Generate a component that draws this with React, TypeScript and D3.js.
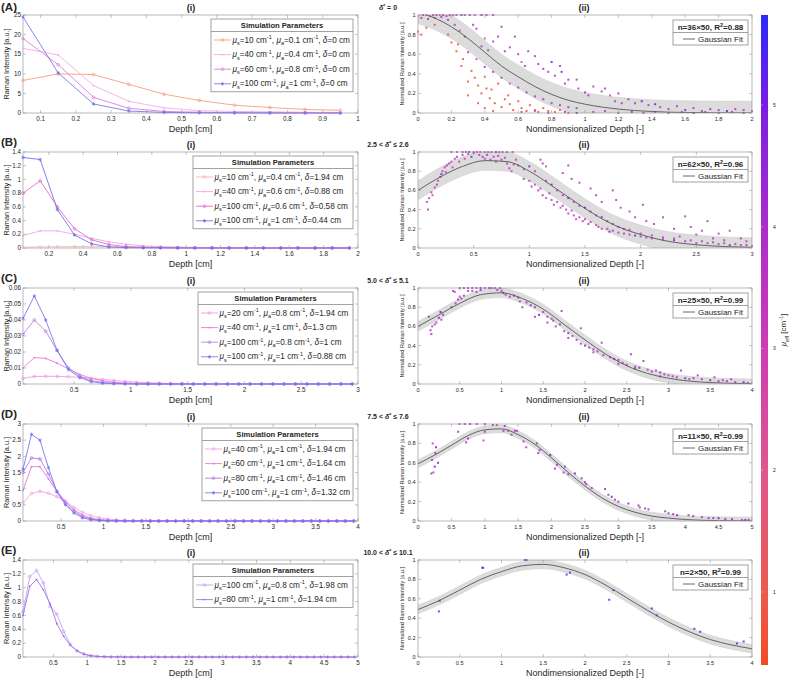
import React from "react";
import * as d3 from "d3";

const FONT = "'Liberation Sans', Arial, Helvetica, sans-serif";

// ---------------- Column (i): simulated Raman intensity vs depth ----------------
const depthA = [0.05, 0.15, 0.25, 0.35, 0.45, 0.55, 0.65, 0.75, 0.85, 0.95];
const intensityA = [
  [8.3, 10.0, 9.8, 7.3, 4.8, 3.2, 2.0, 1.4, 0.9, 0.7],
  [16.5, 14.8, 7.0, 3.0, 1.3, 0.6, 0.4, 0.3, 0.2, 0.15],
  [19.0, 12.3, 4.0, 1.2, 0.4, 0.2, 0.1, 0.05, 0.03, 0.02],
  [24.5, 10.2, 2.3, 0.5, 0.15, 0.05, 0.02, 0.01, 0, 0],
];
const legendA = [["10", "0.1", "0"], ["40", "0.4", "0"], ["60", "0.8", "0"], ["100", "1", "0"]];

const depthB = [0.05, 0.15, 0.25, 0.35, 0.45, 0.55, 0.65, 0.75, 0.85, 0.95, 1.05, 1.15, 1.25, 1.35, 1.45, 1.55, 1.65, 1.75, 1.85, 1.95];
const intensityB = [
  [0.01, 0.015, 0.018, 0.02, 0.02, 0.018, 0.016, 0.014, 0.012, 0.01, 0.008, 0.007, 0.006, 0.005, 0.004, 0.003, 0.003, 0.002, 0.002, 0.002],
  [0.18, 0.25, 0.25, 0.2, 0.14, 0.09, 0.055, 0.03, 0.02, 0.012, 0.008, 0.005, 0.003, 0.002, 0.001, 0.001, 0, 0, 0, 0],
  [0.8, 0.98, 0.6, 0.28, 0.12, 0.05, 0.02, 0.01, 0.005, 0.002, 0.001, 0, 0, 0, 0, 0, 0, 0, 0, 0],
  [1.32, 1.29, 0.56, 0.19, 0.06, 0.015, 0.005, 0.002, 0.001, 0, 0, 0, 0, 0, 0, 0, 0, 0, 0, 0],
];
const legendB = [["10", "0.4", "1.94"], ["40", "0.6", "0.88"], ["100", "0.6", "0.58"], ["100", "1", "0.44"]];

const depthC = [0.05, 0.15, 0.25, 0.35, 0.45, 0.55, 0.65, 0.75, 0.85, 0.95, 1.05, 1.15, 1.25, 1.35, 1.45, 1.55, 1.65, 1.75, 1.85, 1.95, 2.05, 2.15, 2.25, 2.35, 2.45, 2.55, 2.65, 2.75, 2.85, 2.95];
const intensityC = [
  [0.0035, 0.0047, 0.0048, 0.0048, 0.0045, 0.0042, 0.0035, 0.0028, 0.0022, 0.0016, 0.0011, 0.0008, 0.0005, 0.0003, 0.0002, 0.0001, 0, 0, 0, 0, 0, 0, 0, 0, 0, 0, 0, 0, 0, 0],
  [0.01, 0.0165, 0.016, 0.013, 0.0095, 0.006, 0.0035, 0.002, 0.0011, 0.0006, 0.0003, 0.0002, 0.0001, 0, 0, 0, 0, 0, 0, 0, 0, 0, 0, 0, 0, 0, 0, 0, 0, 0],
  [0.031, 0.04, 0.033, 0.021, 0.01, 0.005, 0.002, 0.001, 0.0005, 0.0002, 0, 0, 0, 0, 0, 0, 0, 0, 0, 0, 0, 0, 0, 0, 0, 0, 0, 0, 0, 0],
  [0.041, 0.055, 0.04, 0.021, 0.009, 0.004, 0.0015, 0.0005, 0.0002, 0.0001, 0, 0, 0, 0, 0, 0, 0, 0, 0, 0, 0, 0, 0, 0, 0, 0, 0, 0, 0, 0],
];
const legendC = [["20", "0.8", "1.94"], ["40", "1", "1.3"], ["100", "0.8", "1"], ["100", "1", "0.88"]];

const depthD = [0.05, 0.15, 0.25, 0.35, 0.45, 0.55, 0.65, 0.75, 0.85, 0.95, 1.05, 1.15, 1.25, 1.35, 1.45, 1.55, 1.65, 1.75, 1.85, 1.95, 2.05, 2.15, 2.25, 2.35, 2.45, 2.55, 2.65, 2.75, 2.85, 2.95, 3.05, 3.15, 3.25, 3.35, 3.45, 3.55, 3.65, 3.75, 3.85, 3.95];
const intensityD = [
  [0.57, 0.85, 0.92, 0.86, 0.75, 0.63, 0.42, 0.27, 0.16, 0.1, 0.06, 0.035, 0.02, 0.012, 0.007, 0.004, 0.002, 0.001, 0, 0, 0, 0, 0, 0, 0, 0, 0, 0, 0, 0, 0, 0, 0, 0, 0, 0, 0, 0, 0, 0],
  [0.95, 1.68, 1.68, 1.3, 0.92, 0.6, 0.35, 0.19, 0.09, 0.045, 0.02, 0.01, 0.005, 0.002, 0.001, 0, 0, 0, 0, 0, 0, 0, 0, 0, 0, 0, 0, 0, 0, 0, 0, 0, 0, 0, 0, 0, 0, 0, 0, 0],
  [1.5, 1.95, 1.92, 1.45, 0.92, 0.55, 0.3, 0.14, 0.06, 0.025, 0.01, 0.005, 0.002, 0.001, 0, 0, 0, 0, 0, 0, 0, 0, 0, 0, 0, 0, 0, 0, 0, 0, 0, 0, 0, 0, 0, 0, 0, 0, 0, 0],
  [1.6, 2.68, 2.5, 1.65, 0.9, 0.5, 0.25, 0.1, 0.04, 0.015, 0.005, 0.002, 0.001, 0, 0, 0, 0, 0, 0, 0, 0, 0, 0, 0, 0, 0, 0, 0, 0, 0, 0, 0, 0, 0, 0, 0, 0, 0, 0, 0],
];
const legendD = [["40", "1", "1.94"], ["60", "1", "1.64"], ["80", "1", "1.46"], ["100", "1", "1.32"]];

const depthE = [0.05, 0.15, 0.25, 0.35, 0.45, 0.55, 0.65, 0.75, 0.85, 0.95, 1.05, 1.15, 1.25, 1.35, 1.45, 1.55, 1.65, 1.75, 1.85, 1.95, 2.05, 2.15, 2.25, 2.35, 2.45, 2.55, 2.65, 2.75, 2.85, 2.95, 3.05, 3.15, 3.25, 3.35, 3.45, 3.55, 3.65, 3.75, 3.85, 3.95, 4.05, 4.15, 4.25, 4.35, 4.45, 4.55, 4.65, 4.75, 4.85, 4.95];
const intensityE = [
  [0.65, 1.16, 1.25, 1.07, 0.73, 0.62, 0.37, 0.18, 0.09, 0.045, 0.02, 0.01, 0.005, 0.002, 0.001, 0, 0, 0, 0, 0, 0, 0, 0, 0, 0, 0, 0, 0, 0, 0, 0, 0, 0, 0, 0, 0, 0, 0, 0, 0, 0, 0, 0, 0, 0, 0, 0, 0, 0, 0],
  [0.6, 1.02, 1.12, 0.97, 0.77, 0.48, 0.3, 0.17, 0.085, 0.04, 0.018, 0.008, 0.004, 0.002, 0.001, 0, 0, 0, 0, 0, 0, 0, 0, 0, 0, 0, 0, 0, 0, 0, 0, 0, 0, 0, 0, 0, 0, 0, 0, 0, 0, 0, 0, 0, 0, 0, 0, 0, 0, 0],
];
const legendE = [["100", "0.8", "1.98"], ["80", "1", "1.94"]];

// tick labels
const xTicksA = [0.1, 0.2, 0.3, 0.4, 0.5, 0.6, 0.7, 0.8, 0.9, 1];
const yTicksA = [0, 5, 10, 15, 20, 25];
const xTicksB = [0.2, 0.4, 0.6, 0.8, 1, 1.2, 1.4, 1.6, 1.8, 2];
const yTicksB = [0, 0.2, 0.4, 0.6, 0.8, 1, 1.2, 1.4];
const xTicksC = [0.5, 1, 1.5, 2, 2.5, 3];
const yTicksC = [0, 0.01, 0.02, 0.03, 0.04, 0.05, 0.06];
const xTicksD = [0.5, 1, 1.5, 2, 2.5, 3, 3.5, 4];
const yTicksD = [0, 0.5, 1, 1.5, 2, 2.5, 3];
const xTicksE = [0.5, 1, 1.5, 2, 2.5, 3, 3.5, 4, 4.5, 5];
const yTicksE = [0, 0.2, 0.4, 0.6, 0.8, 1, 1.2, 1.4];

// ---------------- Column (ii): normalized intensity + Gaussian fit ----------------
const fitXA = [0, 0.1, 0.2, 0.3, 0.4, 0.5, 0.6, 0.7, 0.8, 0.9, 1.0, 1.2, 1.4, 1.6, 1.8, 2.0];
const fitYA = [1.03, 0.97, 0.88, 0.76, 0.62, 0.48, 0.37, 0.27, 0.19, 0.13, 0.09, 0.04, 0.015, 0.005, 0.002, 0.001];
const fitXB = [0, 0.2, 0.4, 0.6, 0.8, 1.0, 1.2, 1.4, 1.6, 1.8, 2.0, 2.2, 2.4, 2.6, 2.8, 3.0];
const fitYB = [0.6, 0.74, 0.85, 0.91, 0.9, 0.8, 0.65, 0.49, 0.34, 0.22, 0.14, 0.08, 0.045, 0.025, 0.013, 0.007];
const fitXC = [0, 0.25, 0.5, 0.75, 1, 1.25, 1.5, 1.75, 2, 2.25, 2.5, 2.75, 3, 3.25, 3.5, 3.75, 4];
const fitYC = [0.6, 0.72, 0.84, 0.93, 0.95, 0.89, 0.78, 0.62, 0.46, 0.31, 0.19, 0.11, 0.06, 0.03, 0.015, 0.007, 0.003];
const fitXD = [0, 0.25, 0.5, 0.75, 1, 1.25, 1.5, 1.75, 2, 2.25, 2.5, 2.75, 3, 3.25, 3.5, 3.75, 4, 4.5, 5];
const fitYD = [0.59, 0.68, 0.78, 0.88, 0.94, 0.95, 0.89, 0.79, 0.65, 0.5, 0.36, 0.24, 0.15, 0.09, 0.05, 0.03, 0.015, 0.004, 0.001];
const fitXE = [0, 0.25, 0.5, 0.75, 1, 1.25, 1.5, 1.75, 2, 2.25, 2.5, 2.75, 3, 3.25, 3.5, 3.75, 4];
const fitYE = [0.49, 0.58, 0.69, 0.8, 0.88, 0.94, 0.955, 0.92, 0.85, 0.74, 0.61, 0.48, 0.36, 0.26, 0.18, 0.125, 0.085];
const bandHalf = [0.12, 0.1, 0.05, 0.04, 0.045];
const fitStats = [["36", "0.88"], ["62", "0.96"], ["25", "0.99"], ["11", "0.99"], ["2", "0.99"]];
const deltaLabels = [["", "= 0"], ["2.5 <", "≤ 2.6"], ["5.0 <", "≤ 5.1"], ["7.5 <", "≤ 7.6"], ["10.0 <", "≤ 10.1"]];
const rowLetters = ["(A)", "(B)", "(C)", "(D)", "(E)"];
const xTicksR = [
  [0, 0.2, 0.4, 0.6, 0.8, 1, 1.2, 1.4, 1.6, 1.8, 2],
  [0, 0.5, 1, 1.5, 2, 2.5, 3],
  [0, 0.5, 1, 1.5, 2, 2.5, 3, 3.5, 4],
  [0, 0.5, 1, 1.5, 2, 2.5, 3, 3.5, 4, 4.5, 5],
  [0, 0.5, 1, 1.5, 2, 2.5, 3, 3.5, 4],
];
const yTicksR = [0, 0.2, 0.4, 0.6, 0.8, 1];
const cbTicks = [1, 2, 3, 4, 5];

// scatter points: [depth*, normalized intensity, mu_eff]
const pointsA = [
  [0.03, 1, 3.8], [0.05, 1, 3.8], [0.07, 0.99, 2.5], [0.09, 1, 3.8], [0.11, 1, 3.8], [0.13, 1, 2.5], [0.15, 1, 3.8], [0.17, 0.99, 3.8], [0.19, 1, 3.8], [0.21, 1, 2.5], [0.23, 1, 3.8], [0.26, 1, 5.3], [0.28, 1, 3.8], [0.31, 1, 3.8], [0.34, 1, 2.5], [0.38, 1, 5.3], [0.41, 1, 3.8], [0.45, 1, 3.8],
  [0.02, 0.97, 3.8], [0.06, 0.96, 3.8], [0.1, 0.97, 2.5], [0.14, 0.98, 3.8], [0.18, 0.95, 3.8],
  [0.0, 0.83, 0.7], [0.02, 0.8, 0.7], [0.05, 0.87, 0.7], [0.1, 0.9, 0.7], [0.18, 0.8, 0.7], [0.2, 0.72, 0.7], [0.23, 0.63, 0.7], [0.24, 0.7, 0.7], [0.26, 0.48, 0.7], [0.27, 0.55, 0.7], [0.3, 0.32, 0.7], [0.32, 0.43, 0.7], [0.34, 0.36, 0.7], [0.36, 0.28, 0.7], [0.38, 0.2, 0.7], [0.4, 0.37, 0.7], [0.41, 0.25, 0.7], [0.43, 0.15, 0.7], [0.44, 0.24, 0.7], [0.46, 0.1, 0.7], [0.48, 0.3, 0.7], [0.5, 0.06, 0.7], [0.52, 0.14, 0.7], [0.54, 0.18, 0.7], [0.55, 0.09, 0.7], [0.57, 0.03, 0.7], [0.6, 0.12, 0.7], [0.62, 0.05, 0.7], [0.65, 0.02, 0.7], [0.67, 0.08, 0.7], [0.7, 0.03, 0.7], [0.72, 0.01, 0.7], [0.75, 0.05, 0.7], [0.78, 0.02, 0.7], [0.82, 0.01, 0.7], [0.85, 0.03, 0.7], [0.9, 0.0, 0.7], [0.36, 0.1, 0.7], [0.4, 0.05, 0.7], [0.45, 0.02, 0.7], [0.3, 0.18, 0.7],
  [0.22, 0.9, 3.8], [0.25, 0.84, 2.5], [0.28, 0.78, 3.8], [0.33, 0.9, 3.8], [0.35, 0.86, 3.8], [0.38, 0.68, 3.8], [0.4, 0.76, 2.5], [0.42, 0.64, 3.8], [0.45, 0.73, 3.8], [0.48, 0.78, 3.8], [0.5, 0.88, 3.8], [0.52, 0.63, 3.8], [0.55, 0.67, 3.8], [0.58, 0.78, 3.8], [0.6, 0.6, 3.8], [0.62, 0.52, 2.5], [0.64, 0.48, 3.8], [0.66, 0.63, 3.8], [0.7, 0.58, 3.8], [0.72, 0.5, 3.8], [0.75, 0.45, 3.8], [0.78, 0.42, 3.8], [0.8, 0.52, 5.3], [0.82, 0.38, 3.8], [0.85, 0.48, 3.8], [0.86, 0.42, 5.3], [0.88, 0.3, 3.8], [0.9, 0.34, 3.8], [0.95, 0.34, 3.8], [0.96, 0.25, 3.8], [1.0, 0.21, 3.8], [1.02, 0.18, 3.8], [1.05, 0.27, 3.8], [1.1, 0.22, 3.8], [1.12, 0.25, 3.8], [1.15, 0.18, 2.5], [1.18, 0.12, 3.8], [1.2, 0.2, 3.8], [1.22, 0.1, 3.8], [1.26, 0.14, 3.8], [1.3, 0.1, 3.8], [1.34, 0.12, 5.3], [1.38, 0.08, 3.8], [1.42, 0.09, 5.3], [1.45, 0.06, 3.8], [1.5, 0.04, 3.8], [1.55, 0.07, 3.8], [1.6, 0.03, 5.3], [1.65, 0.05, 3.8], [1.7, 0.02, 3.8], [1.75, 0.04, 3.8], [1.8, 0.03, 3.8], [1.85, 0.02, 5.3], [1.9, 0.04, 3.8], [1.95, 0.03, 3.8], [2.0, 0.02, 3.8],
  [0.3, 0.62, 3.8], [0.35, 0.55, 2.5], [0.4, 0.47, 3.8], [0.45, 0.42, 3.8], [0.5, 0.36, 3.8], [0.55, 0.3, 2.5], [0.6, 0.26, 3.8], [0.65, 0.21, 3.8], [0.7, 0.17, 3.8], [0.75, 0.14, 3.8], [0.8, 0.1, 3.8], [0.85, 0.08, 3.8], [0.9, 0.06, 3.8], [0.95, 0.05, 3.8],
  [0.62, 0.01, 3.8], [0.7, 0.02, 2.5], [0.78, 0.0, 3.8], [0.88, 0.01, 3.8], [0.95, 0.0, 5.3], [1.05, 0.01, 3.8], [1.12, 0.02, 3.8], [1.2, 0.0, 3.8], [1.28, 0.01, 5.3], [1.35, 0.0, 3.8], [1.42, 0.01, 3.8], [1.5, 0.0, 3.8], [1.58, 0.01, 3.8], [1.65, 0.0, 5.3], [1.72, 0.01, 3.8], [1.8, 0.0, 3.8], [1.88, 0.01, 3.8], [1.95, 0.0, 3.8],
];
const pointsB = [
  [0.08, 0.48, 2.8], [0.09, 0.4, 3.5], [0.1, 0.52, 3.5], [0.12, 0.58, 3.5], [0.13, 0.55, 2.8], [0.15, 0.63, 3.5], [0.17, 0.66, 3.5], [0.18, 0.7, 2.8], [0.2, 0.74, 3.5], [0.21, 0.77, 5], [0.22, 0.8, 3.5], [0.24, 0.84, 3.5], [0.25, 0.79, 2.8], [0.26, 0.86, 3.5], [0.28, 0.88, 3.5], [0.3, 0.9, 3.5], [0.31, 0.84, 2.8], [0.33, 0.93, 3.5], [0.35, 0.95, 3.5], [0.37, 0.9, 3.5], [0.4, 0.97, 3.5], [0.42, 0.93, 2.8], [0.45, 0.98, 3.5], [0.48, 0.95, 5], [0.5, 0.99, 3.5],
  [0.3, 1, 3.5], [0.35, 1, 2.8], [0.4, 1, 3.5], [0.43, 1, 3.5], [0.46, 1, 5], [0.5, 1, 3.5], [0.53, 1, 3.5], [0.56, 1, 2.8], [0.6, 1, 3.5], [0.63, 1, 3.5], [0.66, 1, 3.5], [0.7, 1, 5], [0.73, 1, 3.5], [0.76, 1, 3.5], [0.8, 1, 3.5], [0.85, 1, 2.8],
  [0.55, 0.97, 3.5], [0.58, 0.95, 3.5], [0.6, 0.93, 3.5], [0.62, 0.97, 3.5], [0.65, 0.92, 3.5], [0.68, 0.95, 3.5], [0.7, 0.9, 2.8], [0.72, 0.96, 3.5], [0.75, 0.92, 3.5], [0.78, 0.94, 3.5], [0.8, 0.88, 3.5], [0.82, 0.83, 3.5], [0.84, 0.8, 2.8], [0.86, 0.87, 3.5], [0.88, 0.92, 3.5], [0.9, 0.86, 3.5], [0.95, 0.82, 3.5], [1.0, 0.85, 5], [1.05, 0.8, 3.5], [1.1, 0.92, 3.5], [1.12, 0.88, 3.5], [1.15, 0.85, 2.8],
  [0.95, 0.72, 3.5], [1.0, 0.7, 3.5], [1.02, 0.64, 3.5], [1.05, 0.66, 2.8], [1.08, 0.6, 3.5], [1.1, 0.62, 3.5], [1.12, 0.55, 3.5], [1.15, 0.52, 2.8], [1.18, 0.57, 3.5], [1.2, 0.5, 3.5], [1.22, 0.45, 3.5], [1.25, 0.48, 3.5], [1.28, 0.42, 2.8], [1.3, 0.44, 3.5], [1.33, 0.4, 3.5], [1.35, 0.36, 3.5], [1.38, 0.39, 3.5], [1.4, 0.34, 3.5], [1.42, 0.3, 2.8], [1.45, 0.32, 3.5], [1.48, 0.28, 3.5], [1.5, 0.3, 3.5], [1.53, 0.25, 3.5], [1.55, 0.27, 3.5], [1.6, 0.24, 2.8], [1.62, 0.22, 3.5], [1.65, 0.2, 3.5], [1.7, 0.2, 3.5], [1.72, 0.17, 5], [1.75, 0.18, 3.5], [1.8, 0.16, 3.5], [1.85, 0.15, 3.5], [1.9, 0.14, 3.5], [1.95, 0.13, 5], [2.0, 0.12, 3.5], [2.05, 0.11, 3.5], [2.1, 0.1, 3.5], [2.2, 0.09, 3.5], [2.3, 0.08, 5], [2.4, 0.07, 3.5], [2.5, 0.05, 3.5], [2.6, 0.05, 3.5], [2.7, 0.04, 3.5], [2.8, 0.03, 5], [2.9, 0.03, 3.5], [3.0, 0.02, 3.5],
  [1.15, 0.7, 3.5], [1.2, 0.66, 5], [1.25, 0.6, 3.5], [1.3, 0.55, 3.5], [1.35, 0.52, 5], [1.4, 0.48, 3.5], [1.45, 0.44, 3.5], [1.5, 0.42, 5], [1.55, 0.38, 3.5], [1.6, 0.34, 3.5], [1.65, 0.32, 5], [1.7, 0.28, 3.5], [1.75, 0.25, 3.5], [1.8, 0.22, 3.5], [1.85, 0.2, 3.5], [1.9, 0.19, 3.5], [2.0, 0.15, 3.5], [2.1, 0.13, 3.5], [2.2, 0.11, 3.5], [2.3, 0.1, 3.5], [2.45, 0.08, 3.5], [2.55, 0.07, 3.5], [2.65, 0.06, 3.5], [2.75, 0.05, 3.5], [2.85, 0.04, 3.5], [2.95, 0.03, 3.5],
  [1.3, 0.78, 3.5], [1.35, 0.86, 3.5], [1.38, 0.72, 3.5], [1.45, 0.68, 3.5], [1.55, 0.62, 3.5], [1.6, 0.55, 3.5], [1.65, 0.48, 3.5], [1.75, 0.6, 3.5], [1.78, 0.5, 3.5], [1.82, 0.42, 3.5], [1.9, 0.38, 3.5], [1.95, 0.32, 3.5], [2.02, 0.45, 3.5], [2.05, 0.28, 3.5], [2.12, 0.25, 3.5], [2.2, 0.32, 3.5], [2.3, 0.2, 3.5], [2.4, 0.33, 3.5], [2.45, 0.22, 3.5], [2.55, 0.18, 3.5], [2.6, 0.28, 3.5], [2.7, 0.15, 3.5], [2.8, 0.18, 3.5], [2.9, 0.1, 3.5], [2.35, 0.12, 3.5], [2.5, 0.14, 3.5], [2.65, 0.1, 3.5], [2.75, 0.08, 3.5], [2.95, 0.07, 3.5],
];
const pointsC = [
  [0.13, 0.7, 3.8], [0.15, 0.56, 3.8], [0.16, 0.52, 3.8], [0.17, 0.6, 3.8], [0.2, 0.62, 3.8], [0.22, 0.64, 3.8], [0.25, 0.69, 4.5], [0.27, 0.75, 5.2], [0.28, 0.67, 3.8], [0.3, 0.72, 3.8], [0.4, 0.8, 3.8], [0.45, 0.84, 3.8], [0.48, 0.88, 4.5], [0.5, 0.91, 3.8], [0.52, 0.89, 3.8], [0.55, 0.92, 3.8], [0.6, 0.97, 3.8], [0.65, 0.97, 3.8], [0.7, 0.96, 3.8], [0.75, 0.98, 4.5], [0.8, 1, 3.8], [0.85, 1, 3.8], [0.88, 1, 5.2], [0.92, 1, 3.8], [0.95, 0.98, 3.8], [0.98, 1, 3.8], [1.0, 0.97, 3.8], [1.02, 0.95, 4.5], [0.42, 0.97, 3.8], [0.44, 0.96, 3.8], [0.5, 1, 3.8], [0.55, 1, 3.8], [0.6, 1, 3.8], [0.65, 1, 3.8], [0.7, 1, 3.8], [0.75, 1, 4.5],
  [1.05, 0.93, 3.8], [1.1, 0.91, 3.8], [1.15, 0.92, 4.5], [1.2, 0.9, 3.8], [1.22, 0.86, 3.8], [1.25, 0.8, 3.8], [1.3, 0.85, 3.8], [1.35, 0.82, 4.5], [1.4, 0.8, 3.8], [1.45, 0.72, 5.2], [1.5, 0.75, 3.8], [1.55, 0.7, 3.8], [1.6, 0.68, 3.8], [1.62, 0.66, 3.8], [1.65, 0.6, 3.8], [1.7, 0.62, 3.8], [1.72, 0.76, 3.8], [1.75, 0.55, 3.8], [1.8, 0.53, 4.5], [1.85, 0.5, 3.8], [1.9, 0.46, 3.8], [1.95, 0.58, 3.8], [1.95, 0.42, 3.8], [2.0, 0.4, 4.5], [2.05, 0.38, 3.8], [2.1, 0.36, 3.8], [2.15, 0.34, 3.8], [2.2, 0.43, 3.8], [2.22, 0.3, 3.8], [2.3, 0.28, 3.8], [2.35, 0.26, 4.5], [2.4, 0.25, 3.8], [2.45, 0.22, 3.8], [2.5, 0.2, 3.8], [2.55, 0.31, 3.8], [2.6, 0.18, 3.8], [2.65, 0.17, 4.5], [2.7, 0.24, 3.8], [2.75, 0.15, 3.8], [2.8, 0.13, 3.8], [2.85, 0.14, 3.8], [2.9, 0.12, 4.5], [2.95, 0.1, 3.8], [3.0, 0.09, 3.8], [3.05, 0.08, 3.8], [3.1, 0.07, 3.8], [3.15, 0.14, 3.8], [3.2, 0.06, 4.5], [3.25, 0.05, 3.8], [3.3, 0.06, 3.8], [3.4, 0.05, 3.8], [3.5, 0.04, 4.5], [3.55, 0.07, 3.8], [3.6, 0.03, 3.8], [3.7, 0.03, 3.8], [3.75, 0.05, 3.8], [3.8, 0.02, 3.8], [3.9, 0.02, 4.5], [3.95, 0.01, 3.8],
  [1.4, 0.7, 3.8], [1.55, 0.64, 3.8], [1.8, 0.48, 3.8], [2.1, 0.33, 3.8], [2.4, 0.21, 3.8], [2.6, 0.16, 3.8], [2.9, 0.08, 3.8], [3.35, 0.09, 3.8], [3.65, 0.04, 3.8],
];
const pointsD = [
  [0.2, 0.49, 4], [0.21, 0.63, 4], [0.22, 0.8, 3.5], [0.23, 0.5, 3.5], [0.25, 0.56, 5], [0.26, 0.7, 4], [0.27, 0.76, 5], [0.3, 0.6, 5], [0.6, 0.92, 4], [0.62, 1, 3.5], [0.7, 1, 4], [0.72, 0.81, 4], [0.75, 0.85, 4], [0.78, 1, 5], [0.88, 1, 4], [0.98, 0.83, 3.5], [1.0, 0.92, 4], [1.0, 1, 4], [1.12, 0.99, 4], [1.18, 0.99, 3.5], [1.28, 0.93, 4], [1.3, 0.98, 4], [1.35, 0.93, 3.5], [1.4, 0.89, 4], [1.45, 0.93, 4], [1.48, 0.93, 4], [1.58, 0.82, 4], [1.62, 0.76, 3.5], [1.78, 0.8, 4], [1.8, 0.7, 4], [1.82, 0.73, 4], [1.98, 0.68, 5], [2.05, 0.54, 4], [2.08, 0.58, 4], [2.18, 0.5, 3.5], [2.2, 0.56, 4], [2.25, 0.48, 4], [2.35, 0.49, 5], [2.45, 0.44, 4], [2.5, 0.4, 4], [2.52, 0.38, 4], [2.6, 0.34, 4], [2.8, 0.33, 4], [2.85, 0.27, 4], [2.9, 0.25, 5], [2.95, 0.22, 4], [3.0, 0.2, 4], [3.15, 0.18, 5], [3.3, 0.16, 4], [3.32, 0.14, 4], [3.4, 0.13, 4], [3.45, 0.12, 4], [3.7, 0.1, 4], [3.75, 0.08, 4], [3.82, 0.07, 4], [3.88, 0.06, 5], [4.05, 0.06, 4], [4.12, 0.05, 4], [4.25, 0.04, 4], [4.35, 0.03, 4], [4.42, 0.03, 4], [4.5, 0.03, 5], [4.6, 0.02, 4], [4.7, 0.02, 4], [4.85, 0.01, 4], [4.9, 0.01, 5], [4.95, 0.01, 4],
];
const pointsE = [
  [0.26, 0.58, 5.2], [0.25, 0.47, 5.2], [0.77, 0.92, 5.2], [0.78, 0.92, 5.2], [1.28, 1.0, 5.2], [1.3, 1.0, 5.2], [1.78, 0.85, 5.2], [1.82, 0.87, 5.2], [2.29, 0.59, 5.2], [2.34, 0.69, 5.2], [2.8, 0.5, 5.2], [2.86, 0.43, 5.2], [3.31, 0.29, 5.2], [3.38, 0.26, 5.2], [3.82, 0.14, 5.2], [3.9, 0.16, 5.2],
];

// ---------------- layout & styles ----------------
const LX0 = 23, LX1 = 358, RX0 = 418, RX1 = 752;
const ROWS = [
  { top: 15, bottom: 113 },
  { top: 152, bottom: 248 },
  { top: 288, bottom: 384 },
  { top: 424, bottom: 521 },
  { top: 560, bottom: 657 },
];
const legendLeftX = [211, 193, 198, 202, 193];
const lineColors = [
  ["#f39a7a", "#f1a6ea", "#d878d8", "#7070ec"],
  ["#f4b0b0", "#f0a0e2", "#e062c6", "#6a6aea"],
  ["#f094de", "#e474d2", "#b478e4", "#7272f2"],
  ["#f0a0e2", "#e072d0", "#b070e0", "#7070f2"],
  ["#c49af0", "#9a6ae6"],
];
const markerKinds = ["circle", "dot", "circle", "star"];
const CB = { x: 761, w: 7, top: 15, bottom: 665, min: 0.4, max: 5.74 };
const cbDomain = [0.4, 1, 2, 3, 4, 5, 5.74];
const cbColors = ["#f24c22", "#ec5a4e", "#e0568e", "#cf3cb4", "#ac2ccc", "#7a1ee2", "#2b2bfa"];
const AX = "#9a9a9a";
const TXT = "#262626";

const colorScale = d3.scaleLinear<string>().domain(cbDomain).range(cbColors).interpolate(d3.interpolateRgb).clamp(true);
const fmt = (v: number) => String(+v.toFixed(3));

function MuLabel({ x, y, s, a, d, fs }: any) {
  const sub = fs * 0.68;
  return (
    <text x={x} y={y} fontSize={fs} fontFamily={FONT} fill={TXT}>
      <tspan fontStyle="italic">μ</tspan>
      <tspan dy={fs * 0.3} fontSize={sub}>s</tspan>
      <tspan dy={-fs * 0.3}>{`=${s} cm`}</tspan>
      <tspan dy={-fs * 0.4} fontSize={sub}>-1</tspan>
      <tspan dy={fs * 0.4}>{", "}</tspan>
      <tspan fontStyle="italic">μ</tspan>
      <tspan dy={fs * 0.3} fontSize={sub}>a</tspan>
      <tspan dy={-fs * 0.3}>{`=${a} cm`}</tspan>
      <tspan dy={-fs * 0.4} fontSize={sub}>-1</tspan>
      <tspan dy={fs * 0.4}>{", "}</tspan>
      <tspan fontStyle="italic">δ</tspan>
      <tspan>{`=${d} cm`}</tspan>
    </text>
  );
}

function Marker({ kind, cx, cy, color }: any) {
  if (kind === "dot") return <circle cx={cx} cy={cy} r={0.9} fill={color} />;
  if (kind === "star") {
    const p = d3.symbol().type(d3.symbolAsterisk).size(9)();
    return <path d={p as string} transform={`translate(${cx},${cy})`} fill="none" stroke={color} strokeWidth={0.7} />;
  }
  return <circle cx={cx} cy={cy} r={1.35} fill="none" stroke={color} strokeWidth={0.7} />;
}

function Frame({ x0, x1, y0, y1, xs, ys, xTicks, yTicks, fs, xLabelY, yLabX }: any) {
  return (
    <g fontFamily={FONT}>
      <rect x={x0} y={y0} width={x1 - x0} height={y1 - y0} fill="none" stroke={AX} strokeWidth={0.7} />
      {xTicks.map((t: number) => (
        <g key={"x" + t}>
          <line x1={xs(t)} x2={xs(t)} y1={y1} y2={y1 - 3} stroke={AX} strokeWidth={0.6} />
          <line x1={xs(t)} x2={xs(t)} y1={y0} y2={y0 + 3} stroke={AX} strokeWidth={0.6} />
          <text x={xs(t)} y={y1 + xLabelY} fontSize={fs} textAnchor="middle" fill={TXT}>{fmt(t)}</text>
        </g>
      ))}
      {yTicks.map((t: number) => (
        <g key={"y" + t}>
          <line x1={x0} x2={x0 + 3} y1={ys(t)} y2={ys(t)} stroke={AX} strokeWidth={0.6} />
          <line x1={x1} x2={x1 - 3} y1={ys(t)} y2={ys(t)} stroke={AX} strokeWidth={0.6} />
          <text x={x0 - yLabX} y={ys(t)} dy="0.35em" fontSize={fs} textAnchor="end" fill={TXT}>{fmt(t)}</text>
        </g>
      ))}
    </g>
  );
}

function LeftPanel({ r, depth, series, xMax, yMax, xTicks, yTicks, legend }: any) {
  const { top, bottom } = ROWS[r];
  const xs = d3.scaleLinear().domain([0.05, xMax]).range([LX0, LX1]);
  const ys = d3.scaleLinear().domain([0, yMax]).range([bottom, top]);
  const line = d3.line<number>().x((_, i) => xs(depth[i])).y((d) => ys(d));
  const colors = lineColors[r];
  const lx = legendLeftX[r];
  const ltop = top + 4;
  const n = legend.length;
  const lh = 21 + 14.6 * (n - 1) + 8;
  return (
    <g>
      <Frame x0={LX0} x1={LX1} y0={top} y1={bottom} xs={xs} ys={ys} xTicks={xTicks} yTicks={yTicks} fs={6.3} xLabelY={8} yLabX={2} />
      {series.map((s: number[], k: number) => (
        <g key={k}>
          <path d={line(s) as string} fill="none" stroke={colors[k]} strokeWidth={0.85} />
          {s.map((v, i) => (
            <Marker key={i} kind={markerKinds[k]} cx={xs(depth[i])} cy={ys(v)} color={colors[k]} />
          ))}
        </g>
      ))}
      <text x={(LX0 + LX1) / 2} y={bottom + 18.5} fontSize={9} textAnchor="middle" fontFamily={FONT} fill={TXT}>Depth [cm]</text>
      <text transform={`translate(8.5,${(top + bottom) / 2}) rotate(-90)`} fontSize={7.3} textAnchor="middle" fontFamily={FONT} fill={TXT}>Raman Intensity [a.u.]</text>
      <text x={191} y={top - 4} fontSize={9} fontWeight="bold" textAnchor="middle" fontFamily={FONT} fill={TXT}>(i)</text>
      <g>
        <rect x={lx} y={ltop} width={LX1 - 5 - lx} height={lh} fill="white" stroke="#7a7a7a" strokeWidth={0.7} />
        <line x1={lx} x2={LX1 - 5} y1={ltop + 12.5} y2={ltop + 12.5} stroke="#7a7a7a" strokeWidth={0.7} />
        <text x={(lx + LX1 - 5) / 2} y={ltop + 9.2} fontSize={7.6} fontWeight="bold" textAnchor="middle" fontFamily={FONT} fill={TXT}>Simulation Parameters</text>
        {legend.map((e: string[], k: number) => {
          const yy = ltop + 21 + 14.6 * k;
          return (
            <g key={k}>
              <line x1={lx + 3} x2={lx + 20} y1={yy} y2={yy} stroke={colors[k]} strokeWidth={0.85} />
              <Marker kind={markerKinds[k]} cx={lx + 11.5} cy={yy} color={colors[k]} />
              <MuLabel x={lx + 21.5} y={yy + 2.6} s={e[0]} a={e[1]} d={e[2]} fs={8.2} />
            </g>
          );
        })}
      </g>
    </g>
  );
}

function RightPanel({ r, xMax, fx, fy, pts }: any) {
  const { top, bottom } = ROWS[r];
  const xs = d3.scaleLinear().domain([0, xMax]).range([RX0, RX1]);
  const ys = d3.scaleLinear().domain([0, 1]).range([bottom, top]);
  const hw = bandHalf[r];
  const idx = d3.range(fx.length);
  const area = d3.area<number>().x((i) => xs(fx[i])).y0((i) => ys(fy[i] - hw)).y1((i) => ys(fy[i] + hw)).curve(d3.curveMonotoneX);
  const curve = d3.line<number>().x((i) => xs(fx[i])).y((i) => ys(fy[i])).curve(d3.curveMonotoneX);
  const clipId = "clipR" + r;
  const st = fitStats[r];
  const lx0 = 673, lx1 = 748, lt = top + 5;
  return (
    <g>
      <defs>
        <clipPath id={clipId}>
          <rect x={RX0} y={top} width={RX1 - RX0} height={bottom - top} />
        </clipPath>
      </defs>
      <g clipPath={`url(#${clipId})`}>
        <path d={area(idx) as string} fill="#d6d6d6" fillOpacity={0.85} stroke="#c4c4c4" strokeWidth={0.4} />
      </g>
      {pts.map((p: number[], i: number) => (
        <rect key={i} x={xs(p[0]) - 1} y={ys(p[1]) - 1} width={2} height={2} fill={colorScale(p[2])} fillOpacity={0.85} />
      ))}
      <g clipPath={`url(#${clipId})`}>
        <path d={curve(idx) as string} fill="none" stroke="#555" strokeWidth={0.9} />
      </g>
      <Frame x0={RX0} x1={RX1} y0={top} y1={bottom} xs={xs} ys={ys} xTicks={xTicksR[r]} yTicks={yTicksR} fs={5.6} xLabelY={7.5} yLabX={2.5} />
      <text x={(RX0 + RX1) / 2} y={bottom + 18.5} fontSize={9} textAnchor="middle" fontFamily={FONT} fill={TXT}>Nondimensionalized Depth [-]</text>
      <text transform={`translate(404,${(top + bottom) / 2}) rotate(-90)`} fontSize={5.5} textAnchor="middle" fontFamily={FONT} fill={TXT}>Normalized Raman Intensity [a.u.]</text>
      <text x={584} y={top - 4} fontSize={9} fontWeight="bold" textAnchor="middle" fontFamily={FONT} fill={TXT}>(ii)</text>
      <rect x={lx0} y={lt} width={lx1 - lx0} height={25} fill="white" stroke="#7a7a7a" strokeWidth={0.7} />
      <line x1={lx0} x2={lx1} y1={lt + 12.5} y2={lt + 12.5} stroke="#7a7a7a" strokeWidth={0.7} />
      <text x={(lx0 + lx1) / 2} y={lt + 9.6} fontSize={8} fontWeight="bold" textAnchor="middle" fontFamily={FONT} fill={TXT}>
        {`n=${st[0]}×50, R`}
        <tspan dy={-3} fontSize={5.5}>2</tspan>
        <tspan dy={3}>{`=${st[1]}`}</tspan>
      </text>
      <line x1={lx0 + 10} x2={lx0 + 22} y1={lt + 19} y2={lt + 19} stroke="#555" strokeWidth={0.9} />
      <text x={lx0 + 25} y={lt + 21.8} fontSize={8} fontFamily={FONT} fill={TXT}>Gaussian Fit</text>
    </g>
  );
}

function RowHeader({ r }: any) {
  const { top } = ROWS[r];
  const dl = deltaLabels[r];
  return (
    <g fontFamily={FONT} fill={TXT}>
      <text x={1} y={Math.max(top - 6, 10.6)} fontSize={11.5} fontWeight="bold">{rowLetters[r]}</text>
      <text x={388} y={top - 5} fontSize={7} fontWeight="bold" textAnchor="middle">
        {dl[0] ? dl[0] + " " : ""}
        <tspan fontStyle="italic">δ</tspan>
        <tspan dy={-2.5} fontSize={5}>*</tspan>
        <tspan dy={2.5}>{" " + dl[1]}</tspan>
      </text>
    </g>
  );
}

function ColorBar() {
  const ys = d3.scaleLinear().domain([CB.min, CB.max]).range([CB.bottom, CB.top]);
  return (
    <g fontFamily={FONT}>
      <defs>
        <linearGradient id="cbGrad" x1="0" y1="1" x2="0" y2="0">
          {cbDomain.map((v, i) => (
            <stop key={i} offset={(v - CB.min) / (CB.max - CB.min)} stopColor={cbColors[i]} />
          ))}
        </linearGradient>
      </defs>
      <rect x={CB.x} y={CB.top} width={CB.w} height={CB.bottom - CB.top} fill="url(#cbGrad)" />
      {cbTicks.map((t) => (
        <g key={t}>
          <line x1={CB.x} x2={CB.x + 2} y1={ys(t)} y2={ys(t)} stroke="#ddd" strokeWidth={0.5} />
          <text x={CB.x + CB.w + 5} y={ys(t)} dy="0.35em" fontSize={5} fill={TXT}>{t}</text>
        </g>
      ))}
      <text transform={`translate(786,${(CB.top + CB.bottom) / 2 - 10}) rotate(-90)`} fontSize={8} textAnchor="middle" fill={TXT}>
        <tspan fontStyle="italic">μ</tspan>
        <tspan dy={2.5} fontSize={5.5}>eff</tspan>
        <tspan dy={-2.5}>{" [cm"}</tspan>
        <tspan dy={-3} fontSize={5.5}>-1</tspan>
        <tspan dy={3}>]</tspan>
      </text>
    </g>
  );
}

export default function App() {
  return (
    <svg width={793} height={679} viewBox="0 0 793 679" style={{ position: "absolute", left: 0, top: 0, background: "white" }}>
      <rect x={0} y={0} width={793} height={679} fill="white" />
      {[0, 1, 2, 3, 4].map((r) => <RowHeader key={r} r={r} />)}
      <LeftPanel r={0} depth={depthA} series={intensityA} xMax={1} yMax={25} xTicks={xTicksA} yTicks={yTicksA} legend={legendA} />
      <LeftPanel r={1} depth={depthB} series={intensityB} xMax={2} yMax={1.4} xTicks={xTicksB} yTicks={yTicksB} legend={legendB} />
      <LeftPanel r={2} depth={depthC} series={intensityC} xMax={3} yMax={0.06} xTicks={xTicksC} yTicks={yTicksC} legend={legendC} />
      <LeftPanel r={3} depth={depthD} series={intensityD} xMax={4} yMax={3} xTicks={xTicksD} yTicks={yTicksD} legend={legendD} />
      <LeftPanel r={4} depth={depthE} series={intensityE} xMax={5} yMax={1.4} xTicks={xTicksE} yTicks={yTicksE} legend={legendE} />
      <RightPanel r={0} xMax={2} fx={fitXA} fy={fitYA} pts={pointsA} />
      <RightPanel r={1} xMax={3} fx={fitXB} fy={fitYB} pts={pointsB} />
      <RightPanel r={2} xMax={4} fx={fitXC} fy={fitYC} pts={pointsC} />
      <RightPanel r={3} xMax={5} fx={fitXD} fy={fitYD} pts={pointsD} />
      <RightPanel r={4} xMax={4} fx={fitXE} fy={fitYE} pts={pointsE} />
      <ColorBar />
    </svg>
  );
}
